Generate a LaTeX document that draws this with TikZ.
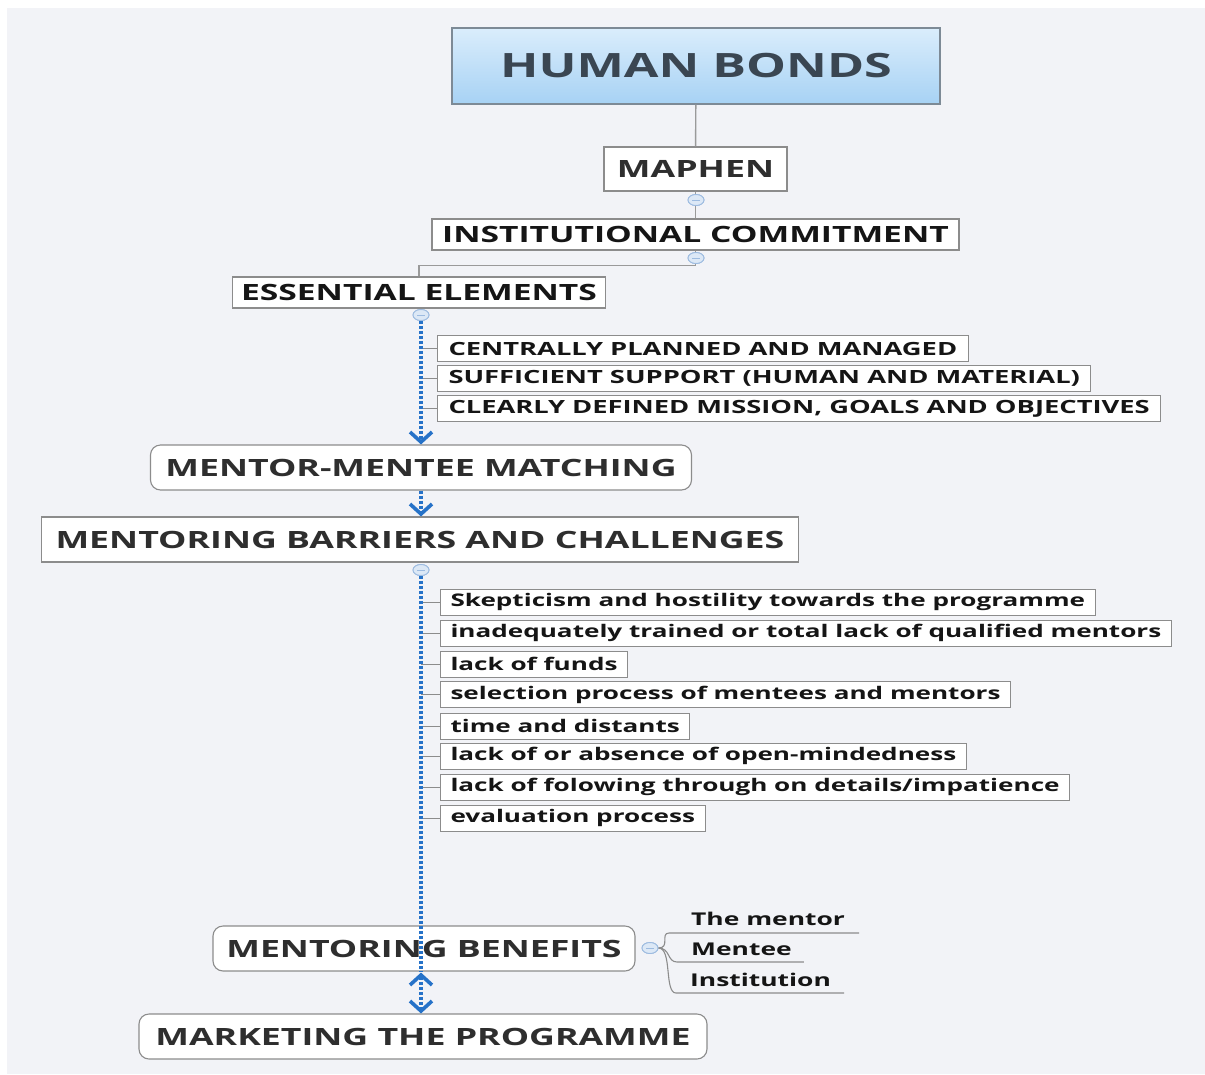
\documentclass[tikz,border=0pt]{standalone}
\usepackage{fontspec}
\newfontfamily\mapfont[FakeStretch=1.5]{Open Sans}
\usetikzlibrary{arrows.meta,shapes.geometric}

\definecolor{canvas}{HTML}{F2F3F7}
\definecolor{boxline}{HTML}{8C8C8C}
\definecolor{stemline}{HTML}{9A9A9A}
\definecolor{titletop}{HTML}{DAEDFC}
\definecolor{titlebot}{HTML}{A7D2F4}
\definecolor{titleline}{HTML}{7D8A96}
\definecolor{titletext}{HTML}{3A4652}
\definecolor{topictext}{HTML}{2E2E2E}
\definecolor{itemtext}{HTML}{151515}
\definecolor{flowblue}{HTML}{2672C8}
\definecolor{iconfill}{HTML}{DCE8F6}
\definecolor{iconline}{HTML}{9DBBE0}

\begin{document}
\begin{tikzpicture}[x=1pt,y=-1pt,
  titlebox/.style={draw=titleline, line width=1.1pt, top color=titletop, bottom color=titlebot,
    text=titletext, font=\mapfont\bfseries\fontsize{33.5}{38}\selectfont, inner sep=0pt},
  topic/.style={draw=boxline, fill=white, line width=1.1pt, text=topictext,
    font=\mapfont\bfseries\fontsize{23.8}{28}\selectfont, inner sep=0pt},
  slimtopic/.style={topic, text=itemtext, font=\mapfont\bfseries\fontsize{22.4}{26}\selectfont},
  roundtopic/.style={topic, rounded corners=10pt},
  capsitem/.style={draw=boxline, fill=white, line width=1pt, text=itemtext, anchor=west,
    font=\mapfont\bfseries\fontsize{18.2}{21}\selectfont, inner xsep=11pt, inner ysep=0pt,
    minimum height=26pt},
  item/.style={capsitem, font=\mapfont\bfseries\fontsize{17.4}{20}\selectfont, inner xsep=10pt},
  subitem/.style={anchor=base west, inner sep=0pt, text=itemtext,
    font=\mapfont\bfseries\fontsize{17.6}{20}\selectfont},
  stem/.style={draw=stemline, line width=1.4pt},
  tick/.style={draw=boxline, line width=1pt},
  branch/.style={draw=boxline, line width=1.1pt},
  flow/.style={draw=flowblue, line width=3.6pt, dash pattern=on 3pt off 2pt},
  flowtip/.tip={Straight Barb[length=10pt,width=22pt,line width=3.6pt]},
  fold/.style={ellipse, draw=iconline, fill=iconfill, line width=0.9pt,
    minimum width=16pt, minimum height=11pt, inner sep=0pt},
  foldbar/.style={draw=iconline, line width=1pt}
]
\useasboundingbox (0,0) rectangle (1205,1074);
\fill[white] (0,0) rectangle (1205,1074);
\fill[canvas] (7,8) rectangle (1205,1074);

% central topic and the first chain
\node[titlebox, minimum width=488pt, minimum height=76pt] (title) at (696,66) {HUMAN BONDS};
\node[topic, minimum width=183pt, minimum height=44pt] (maphen) at (695.5,169) {MAPHEN};
\node[slimtopic, minimum width=527pt, minimum height=31pt] (inst) at (695.5,234.5) {INSTITUTIONAL COMMITMENT};
\node[slimtopic, minimum width=373pt, minimum height=31pt] (ess) at (419,292.5) {ESSENTIAL ELEMENTS};

\draw[stem] (title) -- (maphen);
\draw[stem] (maphen) -- (inst);
\draw[stem] (inst.south) -- ++(0,15) -| (ess.north);

% essential elements
\node[capsitem] (e1) at (437,348.5) {CENTRALLY PLANNED AND MANAGED};
\node[capsitem] (e2) at (437,378) {SUFFICIENT SUPPORT (HUMAN AND MATERIAL)};
\node[capsitem] (e3) at (437,408.5) {CLEARLY DEFINED MISSION, GOALS AND OBJECTIVES};

\node[roundtopic, minimum width=541pt, minimum height=45pt] (match) at (421,467.5) {MENTOR-MENTEE MATCHING};
\node[topic, minimum width=757pt, minimum height=45pt] (barr) at (420,539.5) {MENTORING BARRIERS AND CHALLENGES};

% barriers and challenges
\node[item] (b1) at (440,602) {Skepticism and hostility towards the programme};
\node[item] (b2) at (440,633) {inadequately trained or total lack of qualified mentors};
\node[item] (b3) at (440,664) {lack of funds};
\node[item] (b4) at (440,694.5) {selection process of mentees and mentors};
\node[item] (b5) at (440,726) {time and distants};
\node[item] (b6) at (440,756) {lack of or absence of open-mindedness};
\node[item] (b7) at (440,787) {lack of folowing through on details/impatience};
\node[item] (b8) at (440,818) {evaluation process};

\node[roundtopic, minimum width=422pt, minimum height=45pt] (bene) at (424,948.5) {MENTORING BENEFITS};
\node[roundtopic, minimum width=568pt, minimum height=45pt] (mark) at (423,1036.5) {MARKETING THE PROGRAMME};

% benefit receivers
\node[subitem] (r1) at (691,925) {The mentor};
\node[subitem] (r2) at (691,955) {Mentee};
\node[subitem] (r3) at (690,986) {Institution};

% fold markers
\node[fold] (i1) at (696,200) {};
\node[fold] (i2) at (696,258) {};
\node[fold] (i3) at (421,315) {};
\node[fold] (i4) at (421,570) {};
\node[fold] (i5) at (650,948) {};

% element ticks and trunk
\foreach \n in {e1,e2,e3}{\draw[tick] (\n.west) -- (\n.west -| i3);}
\foreach \n in {b1,b2,b3,b4,b5,b6,b7,b8}{\draw[tick] (\n.west) -- (\n.west -| i4);}

\draw[flow, -flowtip] (i3.south) -- (i3 |- match.north);
\draw[flow, -flowtip] (i3 |- match.south) -- (i3 |- barr.north);
\draw[flow] (i4.south) -- (i4 |- bene.south);
\draw[flow, flowtip-flowtip] ([yshift=-1pt]i4 |- bene.south) -- (i4 |- mark.north);

% benefit branches
\draw[branch] (i5.east) .. controls +(12,0) and +(-9,0) .. ([xshift=-22pt,yshift=-8pt]r1.base west) -- ([xshift=14pt,yshift=-8pt]r1.base east);
\draw[branch] (i5.east) .. controls +(12,0) and +(-10,0) .. ([xshift=-14pt,yshift=-7pt]r2.base west) -- ([xshift=12pt,yshift=-7pt]r2.base east);
\draw[branch] (i5.east) .. controls +(14,0) and +(-12,0) .. ([xshift=-14pt,yshift=-7pt]r3.base west) -- ([xshift=13pt,yshift=-7pt]r3.base east);

% fold markers on top of the lines
\foreach \i in {i1,i2,i3,i4,i5}{
  \node[fold] at (\i) {};
  \draw[foldbar] ([xshift=-4pt]\i.center) -- ([xshift=4pt]\i.center);
}
\end{tikzpicture}
\end{document}
